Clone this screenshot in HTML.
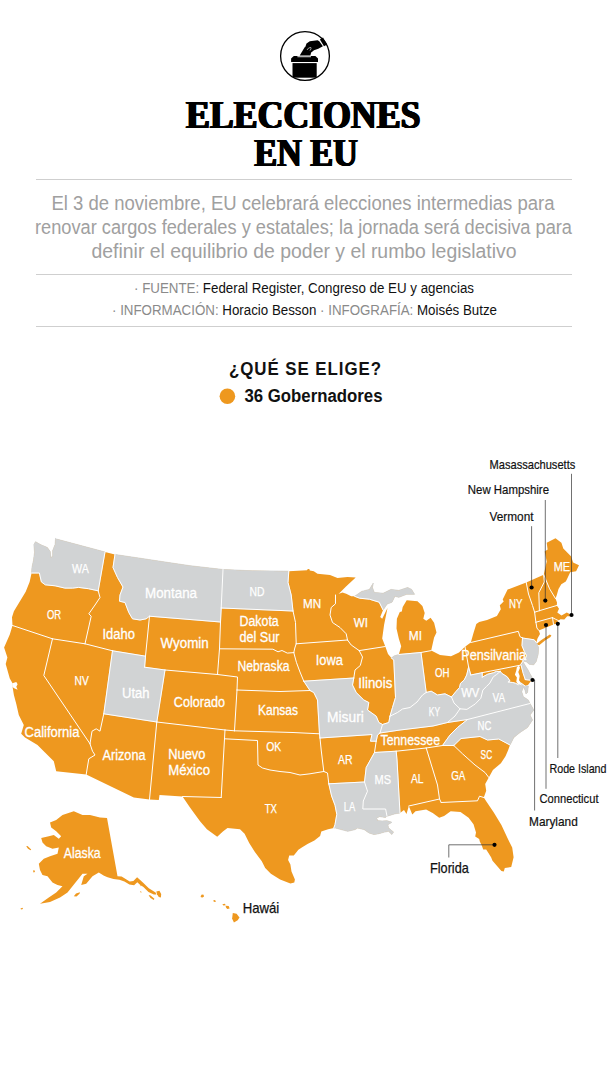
<!DOCTYPE html>
<html><head><meta charset="utf-8">
<style>
html,body{margin:0;padding:0;background:#fff;}
body{width:612px;height:1074px;overflow:hidden;font-family:"Liberation Sans",sans-serif;}
svg{display:block;}
.ser{font-family:"Liberation Serif",serif;font-weight:bold;}
.sans{font-family:"Liberation Sans",sans-serif;}
.lbl{font-family:"Liberation Sans",sans-serif;font-size:13px;fill:#fff;}
.lblk{font-family:"Liberation Sans",sans-serif;font-size:12.5px;fill:#000;}
</style></head>
<body>
<svg width="612" height="1074" viewBox="0 0 612 1074">
<rect width="612" height="1074" fill="#fff"/>
<!-- ICON -->
<g id="icon">
<defs><clipPath id="cc"><circle cx="305" cy="56" r="24.4"/></clipPath></defs>
<circle cx="305" cy="56" r="24.4" fill="#fff" stroke="#000" stroke-width="1.3"/>
<g fill="#000">
<path d="M293.8,55.9 L315.4,55.9 L318,58.6 L318,62.1 L291.1,62.1 L291.1,58.6Z"/>
<rect x="292.5" y="63.1" width="24.2" height="14.6" clip-path="url(#cc)"/>
<path d="M299.7,55.5 L305,46.8 L311.8,49.4 L310.4,55.5Z"/>
<path d="M305.3,47 L306.5,43.6 L309.8,41.2 L317.6,40.3 L319.3,41.3 L322.9,46.3 L318.3,48.8 L314,50.3 L311.5,52.3 L307.6,52.3 L305.5,50.2Z"/>
<path d="M319.9,39.6 L323,37.6 L327.2,44.4 L324,46.3Z"/>
<rect x="297.4" y="56.3" width="13.6" height="0.9" fill="#fff"/>
<path d="M307,50 Q308.2,47.4 310.8,47.4 Q311.6,48.6 310,50.6" fill="none" stroke="#fff" stroke-width="0.6"/>
</g>
</g>
<!-- TITLE -->
<g class="ser" font-size="39.6" fill="#000">
<text x="185.1" y="127.5" textLength="234.5" lengthAdjust="spacingAndGlyphs">ELECCIONES</text>
<text x="253.4" y="166" textLength="103.5" lengthAdjust="spacingAndGlyphs">EN EU</text>
<text x="185.55" y="127.5" textLength="234.5" lengthAdjust="spacingAndGlyphs">ELECCIONES</text>
<text x="253.85" y="166" textLength="103.5" lengthAdjust="spacingAndGlyphs">EN EU</text>
<text x="186" y="127.5" textLength="234.5" lengthAdjust="spacingAndGlyphs">ELECCIONES</text>
<text x="254.3" y="166" textLength="103.5" lengthAdjust="spacingAndGlyphs">EN EU</text>
<text x="186.45" y="127.5" textLength="234.5" lengthAdjust="spacingAndGlyphs">ELECCIONES</text>
<text x="254.75" y="166" textLength="103.5" lengthAdjust="spacingAndGlyphs">EN EU</text>
<text x="186.9" y="127.5" textLength="234.5" lengthAdjust="spacingAndGlyphs">ELECCIONES</text>
<text x="255.2" y="166" textLength="103.5" lengthAdjust="spacingAndGlyphs">EN EU</text>
</g>
<!-- RULES -->
<g stroke="#cfcfcf" stroke-width="1">
<line x1="36" y1="179.5" x2="572" y2="179.5"/>
<line x1="36" y1="274.5" x2="572" y2="274.5"/>
<line x1="36" y1="326.5" x2="572" y2="326.5"/>
</g>
<!-- SUBTITLE -->
<g class="sans" font-size="19.5" fill="#a0a0a0">
<text x="51.5" y="210" textLength="503" lengthAdjust="spacingAndGlyphs">El 3 de noviembre, EU celebrará elecciones intermedias para</text>
<text x="35" y="234" textLength="537" lengthAdjust="spacingAndGlyphs">renovar cargos federales y estatales; la jornada será decisiva para</text>
<text x="91.5" y="258" textLength="425" lengthAdjust="spacingAndGlyphs">definir el equilibrio de poder y el rumbo legislativo</text>
</g>
<!-- SOURCE -->
<g class="sans" font-size="14">
<text x="134" y="292.5" textLength="340" lengthAdjust="spacingAndGlyphs"><tspan fill="#8a8a8a">· FUENTE:</tspan><tspan fill="#111"> Federal Register, Congreso de EU y agencias</tspan></text>
<text x="112" y="315" textLength="385" lengthAdjust="spacingAndGlyphs"><tspan fill="#8a8a8a">· INFORMACIÓN:</tspan><tspan fill="#111"> Horacio Besson</tspan><tspan fill="#8a8a8a"> · INFOGRAFÍA:</tspan><tspan fill="#111"> Moisés Butze</tspan></text>
</g>
<!-- QUE SE ELIGE -->
<text class="sans" x="229" y="374.7" font-size="18" font-weight="bold" fill="#111" textLength="153" lengthAdjust="spacingAndGlyphs" letter-spacing="1">¿QUÉ SE ELIGE?</text>
<circle cx="227.4" cy="396.3" r="7.8" fill="#EE981F"/>
<text class="sans" x="244.5" y="402.1" font-size="18" font-weight="bold" fill="#111" textLength="138" lengthAdjust="spacingAndGlyphs">36 Gobernadores</text>
<!-- MAP -->
<g id="map" stroke-linejoin="round" stroke-linecap="round">
<path d="M55.5,538.8 L105,552 L115,554.5 L140,558.2 L165,562 L190,565.7 L223,569.5 L252.5,570.8 L288.8,571.2 L307,570.3 L307.8,569 L309.3,569 L309.8,570.5 L313.8,571.2 L317.5,573.8 L330,575 L337.5,578 L347.5,577 L355.7,577.6 L345.5,587 L338.8,593.8 L335.5,595 L342.5,592.5 L346.2,593.8 L351.2,596.2 L354.7,596.3 L361.6,591.4 L369.4,589.4 L373.3,583.1 L372.4,587.5 L374.3,592.4 L383.1,593.3 L391,589.4 L398.8,590.4 L407.6,587.5 L411.6,589.4 L414.5,594.3 L406.7,594.3 L398.8,597.3 L394.9,596.3 L392,602.2 L387.1,604.1 L383.1,610 L380.2,616.9 L382.2,618.8 L387.5,608 L384.1,624.7 L382.2,638.4 L385.3,646.5 L388,654.1 L391.4,658 L394,656 L398.8,654.5 L401.2,646.3 L398.8,638.4 L396.5,628.6 L396.9,618.8 L399.8,612 L401.8,611.4 L402.7,607 L406.7,600.2 L417.5,601.2 L422.4,606 L424.7,613 L423.3,618.8 L426.3,620.8 L430.6,617.8 L434.1,622.7 L436.5,632.5 L434.1,637.5 L431.2,650.6 L440,655 L451,656.2 L459,652.5 L465,646.7 L470.8,642.5 L473.5,633 L476.3,623.9 L479.2,622 L487.1,620 L496.9,616.1 L500.8,609.2 L499.8,605.3 L503.7,601.4 L502.7,599.4 L507.6,589.6 L526.2,582.4 L543.7,574.7 L546.7,561.4 L544.7,551.6 L547.6,549.6 L546.7,542.7 L555.5,538.2 L561.4,542.7 L563.3,548.6 L571.2,556.5 L573.1,562.4 L579,565.3 L576.1,571.2 L570.2,572.2 L567.3,578.5 L565.8,581.5 L561.3,584.2 L558.5,589.1 L556.8,595 L555.5,598.6 L557,602.5 L556.8,605.5 L559,608.8 L557.3,612.6 L561.5,615.6 L566.8,612.6 L569.6,614 L570,616.2 L567.2,616.2 L564.3,619.4 L560.5,619.2 L558.4,620.6 L556.5,623.5 L553.5,624.5 L538.8,630.4 L540,634 L537.5,638.5 L536.3,642.5 L538.6,647.6 L538.1,654.5 L536.2,661.4 L533.7,664.8 L529.3,664.3 L526.4,661.8 L522.5,660.8 L519.7,665.3 L521.1,665.3 L523.2,662.2 L525.3,665.7 L528,669.9 L530.1,674 L532.2,677.5 L531.5,680.3 L528,685 L525,686 L528.3,686 L527.5,692.5 L526,694 L525,690 L523,686.5 L521.1,683.1 L519,680.3 L519.7,676.1 L518.3,671.9 L520,667.8 L519,665.7 L516.9,667.1 L516.3,670.6 L514.9,674.7 L516.9,677.5 L516.3,681.7 L518.3,684.7 L520,685 L523.3,686.7 L521.7,691.7 L523.3,696.7 L528.3,700 L530,703.5 L533.8,710 L530,715 L532.5,720 L527.5,727.5 L520,732.5 L513.8,737.5 L510,745 L508,750.5 L505.5,756.3 L500.9,763.2 L492.9,770 L488.8,777.5 L485.2,784 L486.2,790.7 L483.8,797.5 L486.2,801.2 L493.8,812.5 L501.4,824.9 L507.7,838.6 L512.2,847.5 L513.6,857.3 L512.2,863.1 L511.2,867.1 L504.8,868 L503.8,871.5 L501.4,871 L492.5,860.7 L491.1,857.3 L486.2,849.4 L483.2,849.4 L481.8,845.5 L479.8,841.6 L479.2,839 L475.2,836.6 L476,832.5 L473.5,824.3 L468.6,817.8 L460.5,812.1 L450.7,811.2 L444.1,816.1 L439.2,817.8 L432.7,812.9 L426.1,809.6 L415.5,811.2 L412.3,814.5 L408.8,806 L406.5,814 L404,810 L400,813 L395,813.8 L387,816.2 L385.4,817.4 L379.6,816.6 L376.4,818.2 L378,820.7 L382.1,821 L387,820.7 L391.9,822.3 L387.8,824.7 L388.6,828 L393.5,832.1 L391.9,834.5 L388.6,831.3 L384.5,832.1 L378.8,833.7 L373.9,834.5 L369,832.9 L364.1,829.6 L357.6,828 L355.1,829.6 L347.8,831.3 L341.2,829.6 L335.5,828 L333.8,828 L328.1,829.2 L321.3,831.5 L320.1,836.1 L314.4,840.6 L307.5,844.1 L301.8,847.5 L298.4,849.8 L293.8,855.5 L289.2,855.5 L288.1,860.1 L290.4,864.6 L291.5,871.5 L294.9,879.5 L294.3,882.5 L290.4,883.4 L280.1,879.5 L270.9,873.8 L265.2,868.1 L261.8,861.2 L254.9,852.1 L249.2,842.9 L244.6,833.8 L240,829.2 L227.5,828 L222.9,831.5 L217.2,836.7 L206.9,829.2 L200,821.2 L190,807.5 L182.5,796.5 L159.5,795 L158.8,800 L149.5,799.5 L133.8,797.5 L86.2,774.5 L56.2,771.2 L53.8,761.2 L45,752.5 L37.5,745 L25,737.5 L21.2,733.8 L23.8,725 L18.8,715 L16.3,704 L13.9,695 L12.6,687 L12.7,683.5 L9.8,678.6 L5.7,663.9 L7.4,657.4 L4.1,647.6 L9.8,634.5 L12.5,625.5 L12,617.2 L13.9,611.3 L19.8,601.5 L25.7,591.7 L29.6,581.9 L31.6,573 L32,567.2 L33.5,560.3 L34.5,552.5 L33.9,544.6 L35.5,541.7 L40.4,544.6 L47.3,547.5 L50.2,551.5 L50.8,557.4 L52.7,556.4 L52.7,550.5 L55.1,544.6 L55.5,538.8Z" fill="#EE981F"/>
<path d="M536.2,644.2 L541,640.2 L549.8,634.4 L551.4,635.6 L550.2,637.2 L545,640.5 L539.2,645.2Z" fill="#EE981F"/>
<path d="M73.8,811.2 L82.5,815 L90,815 L100,817.5 L107,818 L117.5,876.2 L121.6,876.5 L129.7,881.6 L133.4,880.9 L137.1,877.2 L142.9,882.4 L148.8,888.2 L155.6,892.4 L156.4,894.4 L153.8,894.6 L148.5,892 L143.4,887 L140,884.8 L137.3,882.2 L134.1,885.2 L129.4,884.5 L124.4,881.5 L119.4,879.8 L113.5,879 L107.6,877.2 L104,875.7 L98.8,872.5 L92.5,876.2 L86.2,883.8 L81.2,885 L83.8,876.2 L87.5,873.8 L82.5,873.8 L77.5,880 L72.5,886.2 L67.5,892.5 L60,897.5 L50,902 L40,903.8 L48.8,897.5 L56.2,892.5 L62.5,886.2 L57.5,885 L52.5,882.5 L47.5,876.2 L42.5,875 L40,870 L38.8,863.8 L43.8,858.8 L50,856.2 L57.5,853.8 L58.8,847.5 L52.5,848.8 L46.2,846.2 L42.5,842.5 L41.2,838 L48.8,836.2 L53.8,835 L58.8,838.8 L61.2,836.2 L56.2,831.2 L51.2,827.5 L50,822.5 L56.2,820 L62.5,815 L70,812.5Z" fill="#EE981F"/>
<path d="M156.3,891.6 L159.4,890.8 L161.2,894 L160.9,897.6 L158.8,896.9 L157,894.2Z" fill="#EE981F"/>
<path d="M148.6,895.2 L150.2,895.2 L154.4,898.8 L153.8,900 L150.5,898Z" fill="#EE981F"/>
<path d="M140.3,884.7 L141,884.5 L141.5,886 L140.8,886.2Z" fill="#EE981F"/>
<path d="M140.3,891.3 L141,891.1 L141.5,892.6 L140.8,892.8Z" fill="#EE981F"/>
<path d="M26.2,846.2 L27.5,846 L31.2,849.5 L30.5,850.3 L28,848.8Z" fill="#EE981F"/>
<path d="M33,870.5 L34.5,870.3 L35,872 L33.5,872.5Z" fill="#EE981F"/>
<path d="M73.8,896.2 L76,893.5 L80,892.2 L79.5,893.8 L76.5,896.5Z" fill="#EE981F"/>
<path d="M20.5,908.5 L22.5,907.8 L23,909 L21,909.5Z" fill="#EE981F"/>
<path d="M12.3,683.3 L16.3,681.9 L17.6,684.3 L16.3,686.8 L17.6,689.7 L14.7,688.4 L12.3,687Z" fill="#fff"/>
<path d="M55.5,538.8 L105,552 L98.2,590.8 L88.4,588.7 L78.6,587.4 L72.7,588.1 L64.9,588.1 L55.1,585.8 L45.3,584.8 L41.4,581.9 L39.4,573 L31.6,573 L32,567.2 L33.5,560.3 L34.5,552.5 L33.9,544.6 L35.5,541.7 L40.4,544.6 L47.3,547.5 L50.2,551.5 L50.8,557.4 L52.7,556.4 L52.7,550.5 L55.1,544.6 L55.5,538.8Z" fill="#D1D3D4" stroke="#D1D3D4" stroke-width="0.8"/>
<path d="M115,554.5 L140,558.2 L165,562 L190,565.7 L223,569.5 L221.2,608 L220.5,622 L149.5,616.2 L146.2,618.8 L140,620 L132.5,618.8 L128.8,612.5 L125,602.5 L119.5,601.2 L120,595 L123,587 L117.5,577.5 L113,567.5 L115,554.5Z" fill="#D1D3D4" stroke="#D1D3D4" stroke-width="0.8"/>
<path d="M223,569.5 L252.5,570.8 L288.8,571.2 L288,582.5 L291.2,595 L293,611 L221.2,608 L223,569.5Z" fill="#D1D3D4" stroke="#D1D3D4" stroke-width="0.8"/>
<path d="M112.5,650.8 L145.5,656.2 L144.6,667.2 L165,670 L156.8,722 L103.8,713.8 L112.5,650.8Z" fill="#D1D3D4" stroke="#D1D3D4" stroke-width="0.8"/>
<path d="M303.8,681.2 L353.8,678 L352.5,685 L356.2,692.5 L363.8,700 L368.8,702.5 L367.5,710 L376.2,716.2 L378.8,722.5 L382.5,724.5 L380,733 L377.5,735 L376.2,741.2 L370.5,741.2 L372,734.5 L320,738 L319.5,733.8 L317.5,700 L313.8,692.5 L310,690.5 L303.8,681.2Z" fill="#D1D3D4" stroke="#D1D3D4" stroke-width="0.8"/>
<path d="M328.8,783.8 L364.5,782 L367.5,791.2 L363.3,801 L362.8,809 L385.6,809 L387,816.2 L385.4,817.4 L379.6,816.6 L376.4,818.2 L378,820.7 L382.1,821 L387,820.7 L391.9,822.3 L387.8,824.7 L388.6,828 L393.5,832.1 L391.9,834.5 L388.6,831.3 L384.5,832.1 L378.8,833.7 L373.9,834.5 L369,832.9 L364.1,829.6 L357.6,828 L355.1,829.6 L347.8,831.3 L341.2,829.6 L335.5,828 L333.8,828 L335,824.6 L336.8,814.3 L335,805.2 L331.6,796 L328.8,783.8Z" fill="#D1D3D4" stroke="#D1D3D4" stroke-width="0.8"/>
<path d="M374.5,752.5 L396.2,751.2 L397,760 L400,813 L395,813.8 L387,816.2 L385.6,809 L362.8,809 L363.3,801 L367.5,791.2 L364.5,782 L366.2,767.5 L374.5,752.5Z" fill="#D1D3D4" stroke="#D1D3D4" stroke-width="0.8"/>
<path d="M391.4,658 L394,656 L398.8,654.5 L421,652.5 L426.2,692.5 L422.5,695 L417,702 L410,707.5 L402.5,709 L397.5,712.5 L390,716.2 L392.5,707.5 L395.5,697.5 L393.8,660 L391.4,658Z" fill="#D1D3D4" stroke="#D1D3D4" stroke-width="0.8"/>
<path d="M390,716.2 L397.5,712.5 L402.5,709 L410,707.5 L417,702 L422.5,695 L426.2,692.5 L431.2,691.2 L437.5,695 L445,693.8 L451.5,697 L454,703 L460,708.8 L455,716 L447.5,722.5 L433,726 L400,730 L380,733 L382.5,724.5 L388.8,722.5 L390,716.2Z" fill="#D1D3D4" stroke="#D1D3D4" stroke-width="0.8"/>
<path d="M451.5,697 L455.8,691.7 L459.5,687.5 L460.5,683.3 L464.2,680 L466.7,675 L468.6,667 L470.8,675 L482.2,672.7 L482.2,677.2 L487.8,674.2 L493.3,672.8 L496.4,671.4 L500.3,671.4 L496.4,674.7 L493.3,676.8 L489.9,683 L486.4,686.5 L482.9,690 L480.8,698.3 L475.3,703.9 L466.9,709.4 L460,708.8 L454,703 L451.5,697Z" fill="#D1D3D4" stroke="#D1D3D4" stroke-width="0.8"/>
<path d="M460,708.8 L466.9,709.4 L475.3,703.9 L480.8,698.3 L482.9,690 L486.4,686.5 L489.9,683 L493.3,676.8 L496.4,674.7 L500.3,671.4 L501.7,673.3 L507.2,676.8 L510,681 L507.9,682 L512.8,682.5 L515.6,683.3 L518.3,684.7 L520,685 L523.3,686.7 L521.7,691.7 L523.3,696.7 L528.3,700 L530,703.5 L467.5,719.5 L447.5,722.5 L455,716 L460,708.8Z" fill="#D1D3D4" stroke="#D1D3D4" stroke-width="0.8"/>
<path d="M521.1,683.1 L525,686 L528.3,686 L527.5,692.5 L526,694 L525,690 L523,686.5 L521.1,683.1Z" fill="#D1D3D4" stroke="#D1D3D4" stroke-width="0.8"/>
<path d="M467.5,719.5 L530,703.5 L533.8,710 L530,715 L532.5,720 L527.5,727.5 L520,732.5 L513.8,737.5 L510,745 L498.8,739 L487.5,740 L480,736.5 L461,738.5 L453.8,745.5 L442.5,745.5 L450,735 L457.5,727.5 L467.5,719.5Z" fill="#D1D3D4" stroke="#D1D3D4" stroke-width="0.8"/>
<path d="M522.5,638 L534.2,639.8 L536.3,642.5 L538.6,647.6 L538.1,654.5 L536.2,661.4 L533.7,664.8 L529.3,664.3 L526.4,661.8 L522.5,660.8 L525.2,659 L526.5,655.5 L524.4,651.6 L522,645.7 L522.3,641 L522.5,638Z" fill="#D1D3D4" stroke="#D1D3D4" stroke-width="0.8"/>
<path d="M521.1,665.3 L523.2,662.2 L525.3,665.7 L528,669.9 L530.1,674 L532.2,677.5 L531.5,680.3 L525.3,679.6 L523.2,673.3 L521.1,665.3Z" fill="#D1D3D4" stroke="#D1D3D4" stroke-width="0.8"/>
<path d="M354.7,596.3 L361.6,591.4 L369.4,589.4 L373.3,583.1 L372.4,587.5 L374.3,592.4 L383.1,593.3 L391,589.4 L398.8,590.4 L407.6,587.5 L411.6,589.4 L414.5,594.3 L406.7,594.3 L398.8,597.3 L394.9,596.3 L392,602.2 L387.1,604.1 L383.1,610 L379.2,602.2 L369.4,599.2 L359.6,598.2 L354.7,596.3Z" fill="#D1D3D4" stroke="#D1D3D4" stroke-width="0.8"/>
<path d="M383.1,610 L379.2,602.2 L369.4,599.2 L359.6,598.2 L354.7,596.3M31.6,573 L39.4,573 L41.4,581.9 L45.3,584.8 L55.1,585.8 L64.9,588.1 L72.7,588.1 L78.6,587.4 L88.4,588.7 L98.2,590.8M105,552 L98.2,590.8M115,554.5 L113,567.5 L117.5,577.5 L123,587 L120,595 L119.5,601.2 L125,602.5 L128.8,612.5 L132.5,618.8 L140,620 L146.2,618.8 L149.5,616.2M149.5,616.2 L145.5,656.2M98.2,590.8 L100,597.5 L95,605 L88.8,613.8 L91.2,616.2 L85,643.8M12.5,625.5 L52.5,638.8M52.5,638.8 L85,643.8M85,643.8 L112.5,650.8M112.5,650.8 L145.5,656.2M145.5,656.2 L144.6,667.2M144.6,667.2 L165,670M52.5,638.8 L43.8,675.5 L90,743.8M112.5,650.8 L103.8,713.8M90,743.8 L92,731.2 L96.2,728.8 L100,731.2 L103.8,713.8M90,743.8 L92.5,751.2 L95,755 L88.8,758.8 L86.2,774.5M103.8,713.8 L156.8,722M165,670 L156.8,722M156.8,722 L149.5,799.5M165,670 L217.5,674.5M149.5,616.2 L220.5,622M223,569.5 L221.2,608M221.2,608 L220.5,622M221.2,608 L293,611M288.8,571.2 L288,582.5 L291.2,595 L293,611M293,611 L295.5,622.5 L296.2,643.8M220.5,622 L219.5,648.8M219.5,648.8 L217.5,674.5M219.5,648.8 L272.9,649.2 L278,651.8 L282,650.5 L287.3,653.1 L293.8,652.6M296.2,643.8 L294.8,648 L293.8,652.6M296.2,643.8 L347.5,640M335.5,595 L335.5,603.8 L331.2,607.5 L330,615 L332.5,622.5 L340,627.5 L346.2,633.8 L347.5,640M347.5,640 L351.2,645 L359.2,650.6M359.2,650.6 L385.3,646.5M359.2,650.6 L362.5,657 L360.3,665.5 L355,670 L353.8,678M293.8,652.6 L296.4,662.3 L300,672 L303.8,681.2M303.8,681.2 L353.8,678M303.8,681.2 L310,690.5M237,690 L280,691.5 L310,690.5M217.5,674.5 L237.5,677 L237,690M237,690 L234.5,730.8M156.8,722 L225,730M225,730 L234.5,730.8M225,730 L224.5,738.8M224.5,738.8 L221.2,797.5M182.5,796.5 L221.2,797.5M224.5,738.8 L257.5,740.5 L258,765 L262.5,768 L270,770 L280,771.5 L290,772.5 L300,775 L310,773.8 L323.8,771.5M234.5,730.8 L293,732.5 L319.5,733.8M310,690.5 L313.8,692.5 L317.5,700 L319.5,733.8M319.5,733.8 L320,738M320,738 L372,734.5 L370.5,741.2 L376.2,741.2M320,738 L321.2,750 L323.8,771.5M323.8,771.5 L327.5,773 L328.8,783.8M328.8,783.8 L364.5,782M328.8,783.8 L331.6,796 L335,805.2 L336.8,814.3 L335,824.6 L333.8,828M353.8,678 L352.5,685 L356.2,692.5 L363.8,700 L368.8,702.5 L367.5,710 L376.2,716.2 L378.8,722.5 L382.5,724.5M382.5,724.5 L380,733M380,733 L377.5,735 L376.2,741.2M382.5,724.5 L388.8,722.5 L390,716.2M391.4,658 L393.8,660 L395.5,697.5 L392.5,707.5 L390,716.2M390,716.2 L397.5,712.5 L402.5,709 L410,707.5 L417,702 L422.5,695 L426.2,692.5M398.8,654.5 L421,652.5M421,652.5 L431.2,650.6M421,652.5 L426.2,692.5M426.2,692.5 L431.2,691.2 L437.5,695 L445,693.8 L451.5,697M451.5,697 L455.8,691.7 L459.5,687.5 L460.5,683.3 L464.2,680 L466.7,675 L468.6,667M465,646.7 L468.6,667M468.6,667 L470.8,675M470.8,675 L482.2,672.7M482.2,672.7 L519.7,665.3M482.2,672.7 L482.2,677.2M482.2,677.2 L487.8,674.2 L493.3,672.8 L496.4,671.4 L500.3,671.4M500.3,671.4 L501.7,673.3 L507.2,676.8 L510,681 L507.9,682 L512.8,682.5 L515.6,683.3 L518.3,684.7M500.3,671.4 L496.4,674.7 L493.3,676.8 L489.9,683 L486.4,686.5 L482.9,690 L480.8,698.3 L475.3,703.9 L466.9,709.4 L460,708.8M451.5,697 L454,703 L460,708.8M460,708.8 L455,716 L447.5,722.5M380,733 L400,730 L433,726 L447.5,722.5M447.5,722.5 L467.5,719.5M467.5,719.5 L530,703.5M467.5,719.5 L457.5,727.5 L450,735 L442.5,745.5M376.2,741.2 L374.5,752.5M374.5,752.5 L366.2,767.5 L364.5,782M364.5,782 L367.5,791.2 L363.3,801 L362.8,809 L385.6,809 L387,816.2M374.5,752.5 L396.2,751.2M396.2,751.2 L426.2,748M426.2,748 L442.5,745.5M442.5,745.5 L453.8,745.5M396.2,751.2 L397,760 L400,813M426.2,748 L437.5,785 L439.5,799 L441.2,802.5M408.8,806 L439.5,799M441.2,802.5 L477.5,800.8 L479.5,796.2 L483.8,797.5M453.8,745.5 L462.5,753.8 L475,765 L485,772.5 L488.8,777.5M453.8,745.5 L461,738.5 L480,736.5 L487.5,740 L498.8,739 L510,745M521.1,665.3 L523.2,673.3 L525.3,679.6M525.3,679.6 L531.5,680.3M521.1,683.1 L525,686M522.5,638 L522.3,641 L522,645.7 L524.4,651.6 L526.5,655.5 L525.2,659 L522.5,660.8M522.5,638 L534.2,639.8 L536.3,642.5M470.8,642.5 L518.3,631.3 L520,636.7 L522.5,638M526.2,582.4 L528.5,594 L532.5,605.5 L534.6,612.2M543.7,574.7 L544.3,582 L538.8,592.7 L539.4,610.7M543.7,574.7 L549.6,588.8 L555.5,598.6M534.6,612.2 L539.4,610.7M539.4,610.7 L556.8,605.5M534.6,612.2 L535.9,622.2M535.9,622.2 L552.5,617.6M552.5,617.6 L555.5,619.2 L558.4,620.6M552.5,617.6 L553.5,624.5M535.9,622.2 L536.9,628 L538.8,630.4" fill="none" stroke="#fff" stroke-width="1"/>
</g>
<!-- ENDMAP -->
<!-- HAWAII -->
<g fill="#EE981F">
<path d="M200.6,896.2 L201.8,894.6 L203.6,894.8 L204,896.4 L202.6,897.4 L201,897.2Z"/>
<path d="M213.2,900.4 L214.6,899.9 L215.9,900.9 L215.4,901.9 L213.8,901.7Z"/>
<path d="M222.4,904.3 L224.9,903.8 L225.7,905.2 L223.3,905.6Z"/>
<path d="M225.6,905.8 L228.7,906 L229.6,908.4 L227.2,908.9 L226,907.4Z"/>
<path d="M232.8,913 L236.6,913.8 L239.5,917.5 L237.7,920.3 L233.9,922.6 L232.1,918.5Z"/>
</g>
<!-- STATE LABELS -->
<g class="sans" fill="#fff" font-size="12.4" stroke="#fff" stroke-width="0.25">
<text x="72" y="572.5" textLength="16.8" lengthAdjust="spacingAndGlyphs">WA</text>
<text x="47" y="618.8" textLength="14.2" lengthAdjust="spacingAndGlyphs">OR</text>
<text x="249.5" y="595.8" textLength="15" lengthAdjust="spacingAndGlyphs">ND</text>
<text x="303" y="607.5" textLength="18.2" lengthAdjust="spacingAndGlyphs">MN</text>
<text x="353.8" y="627" textLength="14.2" lengthAdjust="spacingAndGlyphs">WI</text>
<text x="408.8" y="640" textLength="13.2" lengthAdjust="spacingAndGlyphs">MI</text>
<text x="435" y="676.5" textLength="14.5" lengthAdjust="spacingAndGlyphs">OH</text>
<text x="461.2" y="697" textLength="18.2" lengthAdjust="spacingAndGlyphs">WV</text>
<text x="492.5" y="702" textLength="12.5" lengthAdjust="spacingAndGlyphs">VA</text>
<text x="428.8" y="715.5" textLength="11.2" lengthAdjust="spacingAndGlyphs">KY</text>
<text x="477.5" y="729.5" textLength="13.8" lengthAdjust="spacingAndGlyphs">NC</text>
<text x="480.6" y="758.5" textLength="11.6" lengthAdjust="spacingAndGlyphs">SC</text>
<text x="451.2" y="780" textLength="14.2" lengthAdjust="spacingAndGlyphs">GA</text>
<text x="411" y="782.8" textLength="12.5" lengthAdjust="spacingAndGlyphs">AL</text>
<text x="374.5" y="783.8" textLength="16.5" lengthAdjust="spacingAndGlyphs">MS</text>
<text x="343.8" y="811.2" textLength="11.5" lengthAdjust="spacingAndGlyphs">LA</text>
<text x="338" y="763.8" textLength="14.5" lengthAdjust="spacingAndGlyphs">AR</text>
<text x="266.2" y="750.5" textLength="15" lengthAdjust="spacingAndGlyphs">OK</text>
<text x="264.7" y="813.2" textLength="12.3" lengthAdjust="spacingAndGlyphs">TX</text>
<text x="74.5" y="685" textLength="14.2" lengthAdjust="spacingAndGlyphs">NV</text>
<text x="509" y="607.5" textLength="13.5" lengthAdjust="spacingAndGlyphs">NY</text>
<text x="553.7" y="570.5" textLength="16.5" lengthAdjust="spacingAndGlyphs">ME</text>
</g>
<g class="sans" fill="#fff" font-size="14.7" stroke="#fff" stroke-width="0.3">
<text x="102.5" y="638.8" textLength="32.5" lengthAdjust="spacingAndGlyphs">Idaho</text>
<text x="145" y="597.5" textLength="52" lengthAdjust="spacingAndGlyphs">Montana</text>
<text x="239.5" y="626.2" textLength="39.2" lengthAdjust="spacingAndGlyphs">Dakota</text>
<text x="239.5" y="642" textLength="40" lengthAdjust="spacingAndGlyphs">del Sur</text>
<text x="160.5" y="648" textLength="48.2" lengthAdjust="spacingAndGlyphs">Wyomin</text>
<text x="237.5" y="671" textLength="52" lengthAdjust="spacingAndGlyphs">Nebraska</text>
<text x="315.8" y="664.5" textLength="27.2" lengthAdjust="spacingAndGlyphs">Iowa</text>
<text x="358.3" y="687.5" textLength="34" lengthAdjust="spacingAndGlyphs">Ilinois</text>
<text x="327" y="722" textLength="36.8" lengthAdjust="spacingAndGlyphs">Misuri</text>
<text x="380.5" y="745.3" textLength="59.5" lengthAdjust="spacingAndGlyphs">Tennessee</text>
<text x="461.2" y="660" textLength="65" lengthAdjust="spacingAndGlyphs">Pensilvania</text>
<text x="173.8" y="707" textLength="51.2" lengthAdjust="spacingAndGlyphs">Colorado</text>
<text x="258" y="714.5" textLength="40" lengthAdjust="spacingAndGlyphs">Kansas</text>
<text x="168.2" y="758.8" textLength="37.3" lengthAdjust="spacingAndGlyphs">Nuevo</text>
<text x="168.2" y="774.5" textLength="41.8" lengthAdjust="spacingAndGlyphs">México</text>
<text x="122" y="697.5" textLength="27.5" lengthAdjust="spacingAndGlyphs">Utah</text>
<text x="24.5" y="737" textLength="55" lengthAdjust="spacingAndGlyphs">California</text>
<text x="102.5" y="759.5" textLength="43" lengthAdjust="spacingAndGlyphs">Arizona</text>
<text x="63.8" y="857.5" textLength="36.8" lengthAdjust="spacingAndGlyphs">Alaska</text>
</g>
<!-- POINTERS -->
<g stroke="#333" stroke-width="0.7" fill="none">
<path d="M571.5,473.8 V615"/>
<path d="M545.3,500 V600.6"/>
<path d="M531.6,526.2 V587.5"/>
<path d="M557.8,623.8 V758"/>
<path d="M546,625 V788.8"/>
<path d="M532.5,680 H534.6 V810.5"/>
<path d="M494.5,844.8 H448.8 V857.5"/>
</g>
<g fill="#000">
<circle cx="571.5" cy="615" r="2.1"/>
<circle cx="545.3" cy="600.6" r="2.1"/>
<circle cx="531.6" cy="587.5" r="2.1"/>
<circle cx="557.8" cy="623.8" r="2.1"/>
<circle cx="546" cy="625" r="2.1"/>
<circle cx="532.5" cy="680" r="2.1"/>
<circle cx="494.5" cy="844.8" r="2.1"/>
</g>
<g class="sans" fill="#111" font-size="12.8" stroke="#111" stroke-width="0.2">
<text x="489.5" y="468.8" textLength="85.8" lengthAdjust="spacingAndGlyphs">Masassachusetts</text>
<text x="467.8" y="494.2" textLength="81.2" lengthAdjust="spacingAndGlyphs">New Hampshire</text>
<text x="489.5" y="521.2" textLength="44" lengthAdjust="spacingAndGlyphs">Vermont</text>
<text x="549.5" y="773.2" textLength="57" lengthAdjust="spacingAndGlyphs">Rode Island</text>
<text x="539.5" y="803.2" textLength="59" lengthAdjust="spacingAndGlyphs">Connecticut</text>
<text x="529" y="825.5" textLength="48.8" lengthAdjust="spacingAndGlyphs">Maryland</text>
</g>
<g class="sans" fill="#111" font-size="14.6" stroke="#111" stroke-width="0.25">
<text x="430" y="873" textLength="38.8" lengthAdjust="spacingAndGlyphs">Florida</text>
<text x="242.7" y="913.2" textLength="36.6" lengthAdjust="spacingAndGlyphs">Hawái</text>
</g>
</svg>
</body></html>
